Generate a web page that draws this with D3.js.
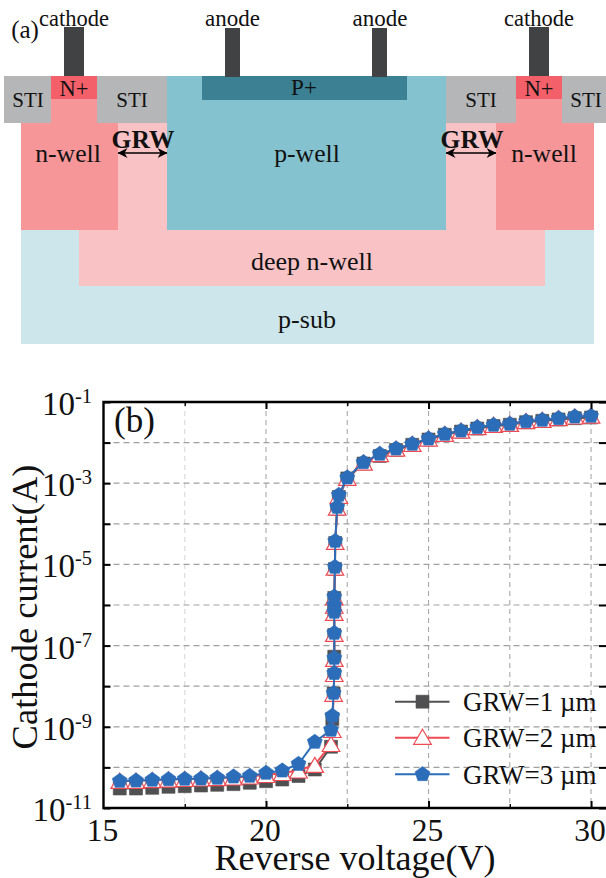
<!DOCTYPE html>
<html><head><meta charset="utf-8">
<script src="https://cdn.jsdelivr.net/npm/d3@7"></script>
<style>html,body{margin:0;padding:0;background:#fff}svg{display:block}text{font-family:"Liberation Serif",serif;fill:#111}</style>
</head><body><div id="chart"></div>
<script>
const voltage=[15.5,16,16.5,17,17.5,18,18.5,19,19.5,20,20.5,21,21.5,22,22.04,22.08,22.1,22.1,22.1,22.1,22.1,22.1,22.12,22.13,22.19,22.24,22.5,23,23.5,24,24.5,25,25.5,26,26.5,27,27.5,28,28.5,29,29.5,30];
const grw1=[3.02e-11,3.02e-11,3.14e-11,3.33e-11,3.44e-11,3.58e-11,3.73e-11,3.87e-11,4.18e-11,4.57e-11,5.03e-11,6.14e-11,8.87e-11,3.23e-10,1.56e-9,6.6e-9,1.89e-8,5.33e-8,1.82e-7,6.2e-7,9.3e-7,1.49e-6,7.71e-6,3.37e-5,2.32e-4,4.57e-4,1.31e-3,3.05e-3,4.68e-3,6.57e-3,8.83e-3,1.19e-2,1.56e-2,1.87e-2,2.22e-2,2.56e-2,2.75e-2,3.18e-2,3.44e-2,3.71e-2,3.99e-2,4.15e-2];
const grw2=[4.67e-11,4.67e-11,4.89e-11,5.03e-11,5.18e-11,5.33e-11,5.48e-11,5.64e-11,5.97e-11,6.5e-11,7.28e-11,8.39e-11,1.15e-10,3.77e-10,8.34e-10,6.5e-9,2.0e-8,4.7e-8,1.95e-7,6.4e-7,9.6e-7,1.55e-6,8.3e-6,3.6e-5,2.5e-4,4.9e-4,1.36e-3,3.2e-3,5.2e-3,7.1e-3,9.3e-3,1.26e-2,1.64e-2,1.98e-2,2.4e-2,2.75e-2,2.9e-2,3.4e-2,3.65e-2,4.0e-2,4.4e-2,4.6e-2];
const grw3=[4.62e-11,4.7e-11,4.89e-11,5.09e-11,5.18e-11,5.27e-11,5.48e-11,5.9e-11,6.14e-11,7.28e-11,8.3e-11,1.21e-10,4.22e-10,8.34e-10,1.85e-9,6.8e-9,2.11e-8,4.95e-8,2.04e-7,6.73e-7,1.0e-6,1.6e-6,8.63e-6,3.77e-5,2.59e-4,5.12e-4,1.37e-3,3.27e-3,5.24e-3,7.08e-3,9.25e-3,1.25e-2,1.63e-2,1.96e-2,2.38e-2,2.71e-2,2.87e-2,3.35e-2,3.6e-2,3.97e-2,4.35e-2,4.52e-2];
const seriesNames=["GRW=1 µm","GRW=2 µm","GRW=3 µm"];
const seriesColors=["#505052","#ee4b55","#2b6db8"];
const xTicksMajor=[15,20,25,30];
const xTicksMinor=[17.5,22.5,27.5];
const yExponents=[-1,-2,-3,-4,-5,-6,-7,-8,-9,-10,-11];
const yLabelled=[-1,-3,-5,-7,-9,-11];

// schematic of panel (a)
const blocks=[
 ["#cde6eb",21,229,573,115],
 ["#f9c3c6",79,229,466,57],
 ["#f9c3c6",118,123,49,107],
 ["#f9c3c6",446,123,50,107],
 ["#f79699",21,123,97,107],
 ["#f79699",496,123,98,107],
 ["#f79699",51,99,46,24],
 ["#f79699",516,99,46,24],
 ["#84c2cf",167,76,279,154],
 ["#3b8093",202,76,205,24],
 ["#b5b6b8",4,76,47,47],
 ["#b5b6b8",97,76,70,47],
 ["#b5b6b8",446,76,70,47],
 ["#b5b6b8",562,76,44,47],
 ["#f4606a",51,76,46,23],
 ["#f4606a",516,76,46,23],
 ["#414244",64,27,20,49],
 ["#414244",529,27,20,49],
 ["#414244",225,28,15,49],
 ["#414244",372,28,15,49]
];
const labels=[
 ["(a)",25,38,25,"normal"],["cathode",74,26,22.5,"normal"],["cathode",539,26,22.5,"normal"],
 ["anode",232.5,26,23,"normal"],["anode",380,26,23,"normal"],
 ["STI",28,107,21,"normal"],["STI",132,107,21,"normal"],["STI",481,107,21,"normal"],["STI",586,107,21,"normal"],
 ["N+",74,96,22.5,"normal"],["N+",539,96,22.5,"normal"],["P+",304,95,23,"normal"],
 ["n-well",68,162,25.7,"normal"],["n-well",544,162,25.7,"normal"],["p-well",307,162,25.7,"normal"],
 ["GRW",143,148,25.5,"bold"],["GRW",472,148,25.5,"bold"],
 ["deep n-well",312,270,26,"normal"],["p-sub",307,328,26,"normal"]
];
const arrows=[[118,167,153],[446,496,153]];

const svg=d3.select("#chart").append("svg").attr("width",606).attr("height",878);
svg.append("g").selectAll("rect").data(blocks).join("rect")
 .attr("fill",d=>d[0]).attr("x",d=>d[1]).attr("y",d=>d[2]).attr("width",d=>d[3]).attr("height",d=>d[4]);
svg.append("g").selectAll("text").data(labels).join("text")
 .attr("x",d=>d[1]).attr("y",d=>d[2]).attr("font-size",d=>d[3]).attr("font-weight",d=>d[4])
 .attr("text-anchor","middle").text(d=>d[0]);
svg.append("defs").append("marker").attr("id","arrowEnd").attr("viewBox","0 0 10 10").attr("refX",9.5).attr("refY",5)
  .attr("markerWidth",10).attr("markerHeight",10).attr("markerUnits","userSpaceOnUse").attr("orient","auto-start-reverse")
  .append("path").attr("d","M0,0L10,5L0,10L3,5Z").attr("fill","#000");
svg.append("g").selectAll("line").data(arrows).join("line")
 .attr("x1",d=>d[0]).attr("x2",d=>d[1]).attr("y1",d=>d[2]).attr("y2",d=>d[2])
 .attr("stroke","#000").attr("stroke-width",1.6).attr("marker-start","url(#arrowEnd)").attr("marker-end","url(#arrowEnd)");

// panel (b)
const x=d3.scaleLinear().domain([15,30.5]).range([103.5,607.3]);
const y=d3.scaleLog().domain([1e-11,1e-1]).range([808,402]);
const g=svg.append("g");
const allX=[...xTicksMajor,...xTicksMinor].filter(v=>v>15);
g.append("g").selectAll("line").data(allX).join("line")
 .attr("x1",d=>x(d)).attr("x2",d=>x(d)).attr("y1",402).attr("y2",808)
 .attr("stroke",d=>d===17.5?"#d8d8d8":"#a9a9a9").attr("stroke-width",1.1).attr("stroke-dasharray","5 4");
g.append("g").selectAll("line").data(yExponents.slice(1,-1)).join("line")
 .attr("x1",103.5).attr("x2",606).attr("y1",d=>y(10**d)).attr("y2",d=>y(10**d))
 .attr("stroke","#a0a0a0").attr("stroke-width",1.2).attr("stroke-dasharray","6 4");

const triSym={draw(c,s){const h=Math.sqrt(s);c.moveTo(0,-h*0.47);c.lineTo(h*0.55,h*0.47);c.lineTo(-h*0.55,h*0.47);c.closePath();}};
const pentSym={draw(c,s){const r=Math.sqrt(s)/2*1.12;for(let i=0;i<5;i++){const a=-Math.PI/2+i*2*Math.PI/5;const px=r*Math.cos(a),py=r*Math.sin(a);i?c.lineTo(px,py):c.moveTo(px,py);}c.closePath();}};
const shapes=[d3.symbol().type(d3.symbolSquare).size(169),d3.symbol().type(triSym).size(256),d3.symbol().type(pentSym).size(196)];
const fills=[seriesColors[0],"#fff",seriesColors[2]];
const line=d3.line().x(d=>x(d[0])).y(d=>y(d[1]));
[grw1,grw2,grw3].forEach((vals,i)=>{
 const pts=voltage.map((v,k)=>[v,vals[k]]);
 const s=g.append("g");
 s.append("path").attr("d",line(pts)).attr("fill","none").attr("stroke",seriesColors[i]).attr("stroke-width",2);
 s.selectAll("path.m").data(pts).join("path").attr("class","m").attr("d",shapes[i]())
  .attr("transform",d=>`translate(${x(d[0])},${y(d[1])})`)
  .attr("fill",fills[i]).attr("stroke",seriesColors[i]).attr("stroke-width",i===1?1.2:0.6);
});

// axes
const clean=a=>{a.select(".domain").remove();};
const tickG=svg.append("g");
const isMajor=v=>xTicksMajor.includes(v);
tickG.append("g").attr("transform","translate(0,808)")
 .call(d3.axisBottom(x).tickValues(allX).tickFormat("").tickSizeOuter(0)).call(clean)
 .selectAll(".tick line").attr("y2",d=>isMajor(d)?-7:-4).attr("stroke","#000").attr("stroke-width",d=>isMajor(d)?2:1.4);
tickG.append("g").attr("transform","translate(0,402)")
 .call(d3.axisTop(x).tickValues(allX).tickFormat("").tickSizeOuter(0)).call(clean)
 .selectAll(".tick line").attr("y2",d=>isMajor(d)?7:4).attr("stroke","#000").attr("stroke-width",d=>isMajor(d)?2:1.4);
tickG.append("g").attr("transform","translate(103.5,0)")
 .call(d3.axisLeft(y).tickValues(yExponents.map(e=>10**e)).tickFormat("").tickSizeOuter(0)).call(clean)
 .selectAll(".tick line").attr("x2",7).attr("stroke","#000").attr("stroke-width",2);
tickG.append("g").attr("transform","translate(606,0)")
 .call(d3.axisRight(y).tickValues(yExponents.map(e=>10**e)).tickFormat("").tickSizeOuter(0)).call(clean)
 .selectAll(".tick line").attr("x2",-7).attr("stroke","#000").attr("stroke-width",2);
svg.append("path").attr("d","M103.5,402H606M103.5,808H606M103.5,400.8V809.2").attr("fill","none").attr("stroke","#000").attr("stroke-width",2.4);

svg.append("g").selectAll("text").data(xTicksMajor).join("text")
 .attr("x",d=>x(d)-1).attr("y",841).attr("font-size",31.5).attr("text-anchor","middle").text(d=>d);
const yl=svg.append("g").selectAll("text").data(yLabelled).join("text")
 .attr("x",92).attr("y",d=>y(10**d)+13).attr("text-anchor","end").attr("font-size",33);
yl.append("tspan").text("10");
yl.append("tspan").attr("font-size",20.5).attr("dy",-12).text(d=>"-"+Math.abs(d));

svg.append("text").attr("x",355).attr("y",870).attr("font-size",36).attr("text-anchor","middle").text("Reverse voltage(V)");
svg.append("text").attr("transform","translate(37,607) rotate(-90)").attr("font-size",36.5).attr("text-anchor","middle").text("Cathode current(A)");
svg.append("text").attr("x",114).attr("y",432).attr("font-size",35).text("(b)");

// legend
const legendY=[701.7,737.8,774.3];
const lg=svg.append("g").selectAll("g").data(seriesNames).join("g");
lg.append("line").attr("x1",395).attr("x2",449.5).attr("y1",(d,i)=>legendY[i]).attr("y2",(d,i)=>legendY[i])
 .attr("stroke",(d,i)=>seriesColors[i]).attr("stroke-width",2);
lg.append("path").attr("d",(d,i)=>shapes[i]()).attr("transform",(d,i)=>`translate(${422.5},${legendY[i]-(i===1?1:0)})`)
 .attr("fill",(d,i)=>fills[i]).attr("stroke",(d,i)=>seriesColors[i]).attr("stroke-width",(d,i)=>i===1?1.2:0.6);
lg.append("text").attr("x",463).attr("y",(d,i)=>legendY[i]+9.2).attr("font-size",27).text(d=>d);
</script></body></html>
